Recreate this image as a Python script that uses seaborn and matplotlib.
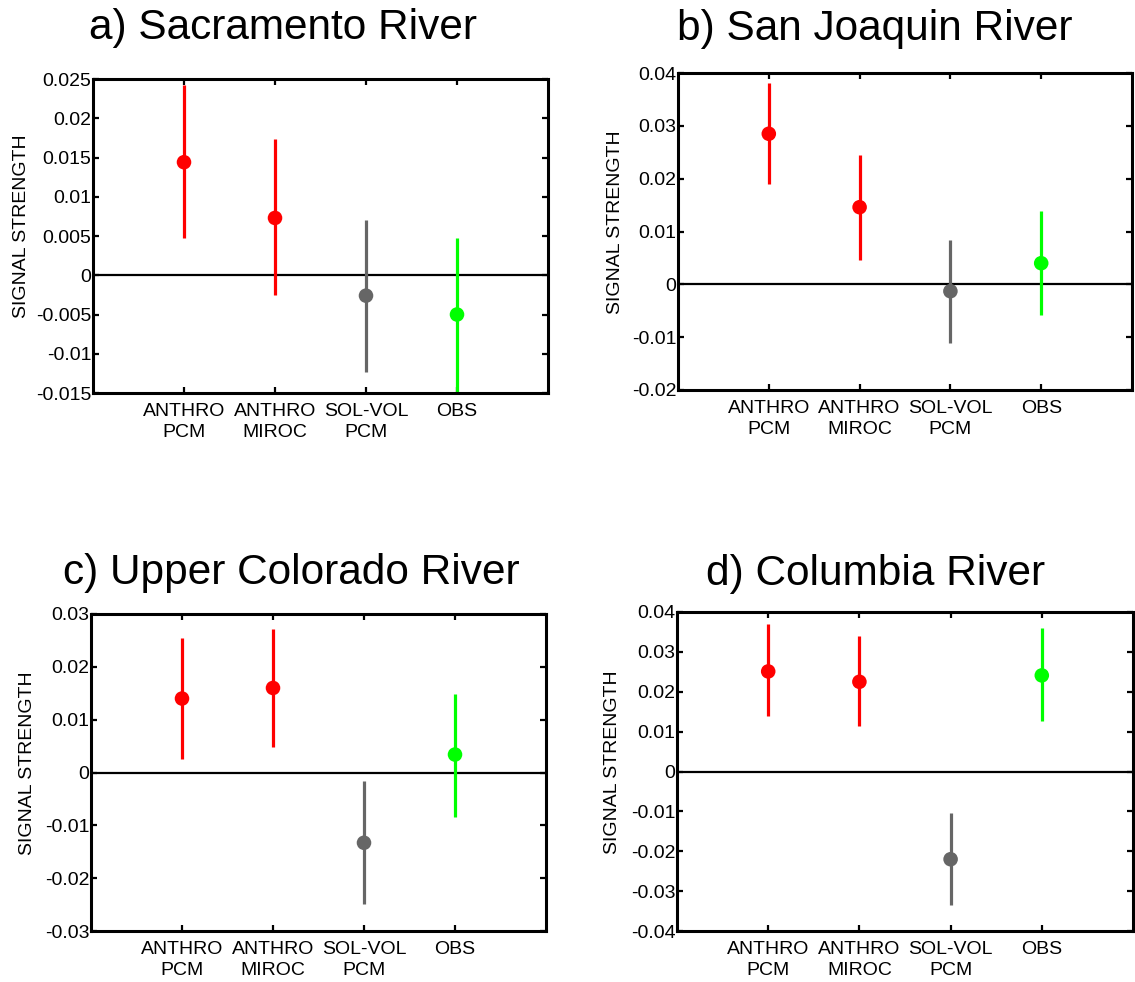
import matplotlib
matplotlib.use("Agg")
import matplotlib.pyplot as plt
import matplotlib.ticker as mticker
import numpy as np
import pandas as pd
import seaborn as sns

# ---------------- data ----------------
categories = ["ANTHRO\nPCM", "ANTHRO\nMIROC", "SOL-VOL\nPCM", "OBS"]
point_colors = ["#ff0000", "#ff0000", "#666666", "#00ff00"]

titles = ["a) Sacramento River", "b) San Joaquin River",
          "c) Upper Colorado River", "d) Columbia River"]

sac_mid = [0.0144, 0.0073, -0.0026, -0.0050]
sac_lo = [0.0047, -0.0025, -0.0123, -0.0150]
sac_hi = [0.0242, 0.0173, 0.0071, 0.0048]

sj_mid = [0.0285, 0.0146, -0.0013, 0.0040]
sj_lo = [0.0190, 0.0046, -0.0111, -0.0058]
sj_hi = [0.0381, 0.0244, 0.0083, 0.0138]

col_up_mid = [0.0140, 0.0160, -0.0133, 0.0034]
col_up_lo = [0.0025, 0.0048, -0.0249, -0.0084]
col_up_hi = [0.0254, 0.0271, -0.0017, 0.0149]

colum_mid = [0.0251, 0.0225, -0.0220, 0.0241]
colum_lo = [0.0139, 0.0115, -0.0335, 0.0126]
colum_hi = [0.0369, 0.0340, -0.0104, 0.0360]

ylims = [(-0.015, 0.025), (-0.02, 0.04), (-0.03, 0.03), (-0.04, 0.04)]
ysteps = [0.005, 0.01, 0.01, 0.01]

panels = [(sac_mid, sac_lo, sac_hi), (sj_mid, sj_lo, sj_hi),
          (col_up_mid, col_up_lo, col_up_hi), (colum_mid, colum_lo, colum_hi)]

# ---------------- style ----------------
sns.set_style("white")
plt.rcParams['font.family'] = ['Liberation Sans', 'DejaVu Sans']
plt.rcParams['text.color'] = 'black'
plt.rcParams['axes.labelcolor'] = 'black'
plt.rcParams['xtick.color'] = 'black'
plt.rcParams['ytick.color'] = 'black'

W, H = 1135, 982
fig = plt.figure(figsize=(W / 100, H / 100), dpi=100)
fig.patch.set_facecolor("white")

# pixel boxes: left, right, top, bottom
boxes = [(93, 548, 79, 393), (678, 1132, 73, 390),
         (91, 546, 614, 931), (677, 1133, 612, 931)]
title_pos = [(283, 39), (875, 40), (291, 584), (876, 585)]
ylabel_x = [-0.138, -0.120, -0.121, -0.122]

for i, (mid, lo, hi) in enumerate(panels):
    l, r, t, b = boxes[i]
    ax = fig.add_axes([l / W, 1 - b / H, (r - l) / W, (b - t) / H])
    xpos = np.arange(1, len(categories) + 1)
    df = pd.DataFrame({"x": xpos, "mid": mid, "lo": lo, "hi": hi,
                       "cat": categories})
    ax.axhline(0, color="black", lw=1.6, zorder=1)
    ax.vlines(df["x"], df["lo"], df["hi"], colors=point_colors, lw=2.3, zorder=2)
    sns.scatterplot(data=df, x="x", y="mid", hue="cat",
                    palette=dict(zip(categories, point_colors)),
                    s=110, edgecolor="none", legend=False, ax=ax, zorder=3)
    ax.set_xlim(0, 5)
    ax.set_ylim(*ylims[i])
    ax.set_xticks(xpos)
    ax.set_xticklabels(categories, fontsize=14, linespacing=1.3)
    lo_y, hi_y = ylims[i]
    ticks = np.arange(lo_y, hi_y + ysteps[i] / 2, ysteps[i])
    ticks = np.round(ticks, 4)
    ax.set_yticks(ticks)
    ax.yaxis.set_major_formatter(mticker.FormatStrFormatter('%g'))
    ax.tick_params(axis='y', labelsize=14, pad=1)
    ax.tick_params(axis='x', pad=7)
    ax.tick_params(direction='in', length=4, width=1.6, top=True, right=True,
                   bottom=True, left=True, colors='black')
    ax.set_xlabel("")
    ax.set_ylabel("SIGNAL STRENGTH", fontsize=14)
    ax.yaxis.set_label_coords(ylabel_x[i], 0.53)
    for sp in ax.spines.values():
        sp.set_visible(True)
        sp.set_linewidth(2.2)
        sp.set_color("black")
    tx, ty = title_pos[i]
    fig.text(tx / W, 1 - ty / H, titles[i], fontsize=30.5, ha="center",
             va="baseline", color="black")

fig.savefig("out.png", dpi=100, facecolor="white")
